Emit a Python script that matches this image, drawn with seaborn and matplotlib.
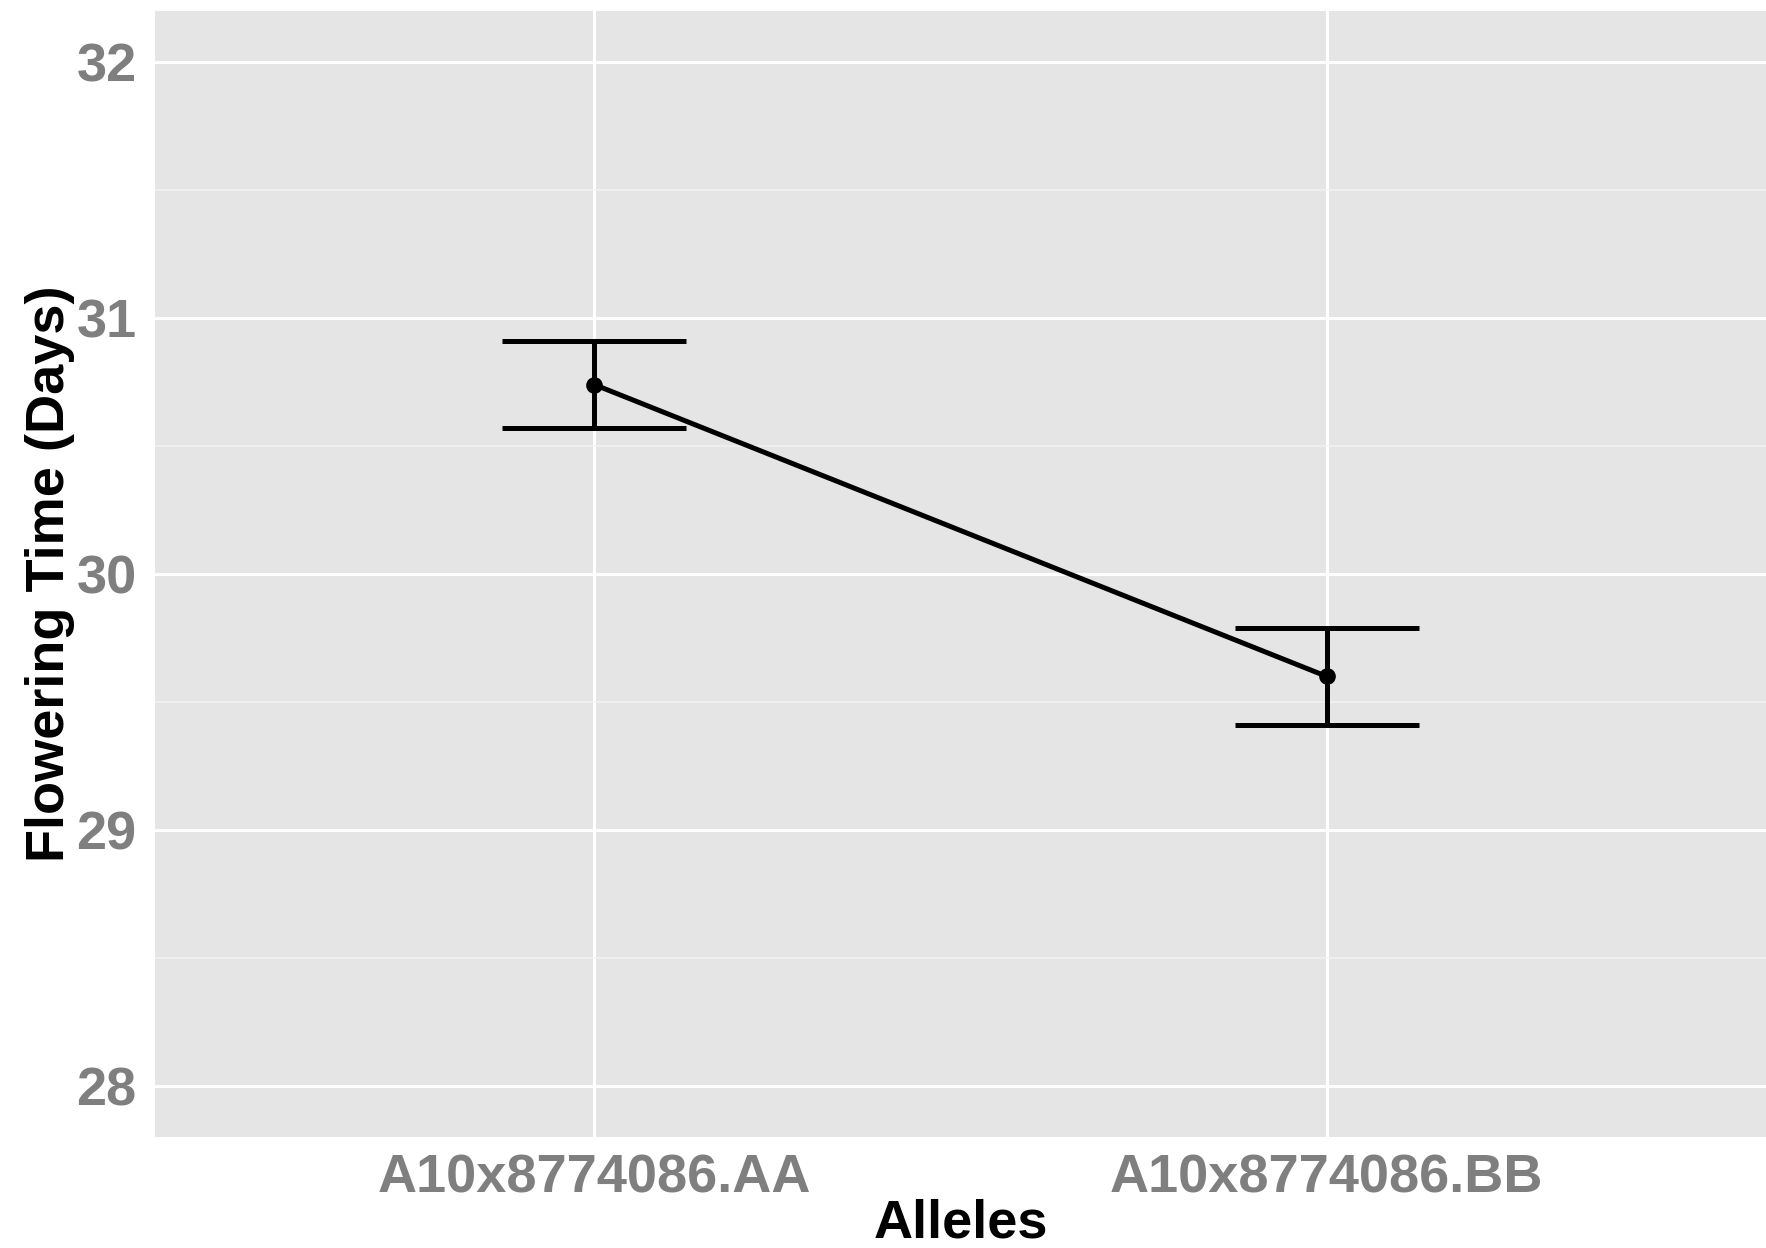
import numpy as np
import pandas as pd
import seaborn as sns
import matplotlib
matplotlib.use("Agg")
import matplotlib.pyplot as plt
from matplotlib.ticker import MultipleLocator

# Dados
alleles = ["A10x8774086.AA", "A10x8774086.BB"]
means = [30.74, 29.60]
lower = [30.57, 29.41]
upper = [30.91, 29.79]

df = pd.DataFrame({"Alleles": alleles, "Mean": means, "Lower": lower, "Upper": upper})

sns.set_theme(style="darkgrid", rc={
    "axes.facecolor": "#E5E5E5",
    "grid.color": "white",
    "axes.edgecolor": "#E5E5E5",
})
plt.rcParams["font.family"] = ["Liberation Sans", "DejaVu Sans"]
plt.rcParams["font.weight"] = "bold"

fig = plt.figure(figsize=(8.83, 6.24), dpi=200)
ax = fig.add_axes([155 / 1766, 1 - 1137 / 1248, 1611 / 1766, 1126 / 1248])

# barras de erro
yerr = [df["Mean"] - df["Lower"], df["Upper"] - df["Mean"]]
ax.errorbar(df["Alleles"], df["Mean"], yerr=yerr, fmt="none", ecolor="black",
            elinewidth=1.8, capsize=33, capthick=1.8, zorder=3)

# linha + pontos
sns.lineplot(data=df, x="Alleles", y="Mean", color="black", linewidth=1.8,
             marker="o", markersize=6, markeredgewidth=0, ax=ax, zorder=4)

ax.set_xlim(-0.6, 1.6)
ax.set_ylim(27.8, 32.2)
ax.yaxis.set_major_locator(MultipleLocator(1))
ax.yaxis.set_minor_locator(MultipleLocator(0.5))
ax.grid(True, which="major", color="white", linewidth=1.1)
ax.grid(True, which="minor", axis="y", color="#F2F2F2", linewidth=0.55)
ax.set_axisbelow(True)
for s in ax.spines.values():
    s.set_visible(False)

ax.tick_params(axis="both", which="major", length=3.6, width=0.8, color="#7F7F7F",
               labelcolor="#7F7F7F", labelsize=19.5)
ax.tick_params(axis="y", which="minor", length=0)
ax.tick_params(axis="x", pad=2.5)
ax.tick_params(axis="y", pad=3)
for lab in ax.get_xticklabels() + ax.get_yticklabels():
    lab.set_fontweight("bold")

ax.set_xlabel("Alleles", fontsize=19.5, fontweight="bold", color="black")
ax.set_ylabel("Flowering Time (Days)", fontsize=19.5, fontweight="bold", color="black")
ax.xaxis.label.set_va("baseline")
ax.xaxis.set_label_coords(0.5, (1137 - 1238) / 1126)
ax.yaxis.label.set_va("center")
ax.yaxis.set_label_coords((50 - 155) / 1611, 0.5)

fig.savefig("out.png", dpi=200)
